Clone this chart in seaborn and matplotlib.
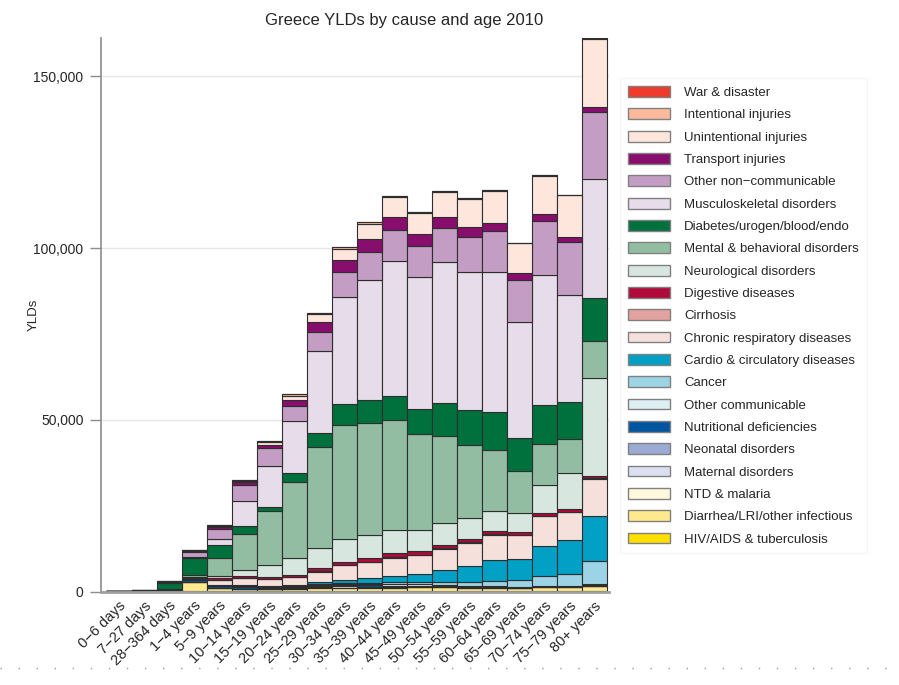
import numpy as np
import pandas as pd
import matplotlib
matplotlib.use("Agg")
import matplotlib.pyplot as plt
from matplotlib.patches import Patch
from matplotlib.lines import Line2D
import seaborn as sns

ages = ["0−6 days", "7−27 days", "28−364 days", "1−4 years", "5−9 years",
        "10−14 years", "15−19 years", "20−24 years", "25−29 years", "30−34 years",
        "35−39 years", "40−44 years", "45−49 years", "50−54 years", "55−59 years",
        "60−64 years", "65−69 years", "70−74 years", "75−79 years", "80+ years"]

# YLDs per cause (bottom of stack first)
hiv_tb        = [0, 0, 40, 100, 150, 150, 150, 200, 250, 250, 250, 250, 250, 250, 200, 150, 100, 150, 150, 100]
diarrhea_lri  = [30, 50, 250, 2600, 900, 700, 600, 600, 700, 800, 800, 900, 1000, 1000, 1000, 1050, 850, 1150, 1150, 1650]
ntd_malaria   = [0, 0, 0, 20, 20, 20, 20, 20, 20, 20, 20, 20, 20, 20, 20, 20, 20, 20, 20, 20]
maternal      = [0, 0, 0, 0, 0, 0, 50, 200, 400, 450, 350, 150, 50, 0, 0, 0, 0, 0, 0, 0]
neonatal      = [200, 300, 200, 200, 100, 50, 30, 20, 20, 20, 20, 20, 20, 20, 20, 20, 20, 20, 20, 20]
nutritional   = [0, 0, 150, 500, 400, 400, 350, 350, 350, 400, 400, 450, 450, 400, 200, 200, 150, 250, 250, 300]
other_comm    = [0, 0, 50, 200, 200, 200, 200, 200, 250, 300, 300, 320, 320, 260, 110, 110, 110, 160, 160, 150]
cancer        = [0, 0, 0, 100, 150, 150, 150, 200, 300, 400, 500, 800, 600, 960, 1360, 1650, 2150, 2910, 3400, 6580]
cardio        = [0, 0, 0, 100, 100, 150, 200, 250, 410, 660, 1250, 1750, 2440, 3400, 4660, 6120, 6120, 8740, 9900, 13310]
chronic_resp  = [0, 0, 50, 300, 1480, 2060, 2040, 2300, 3140, 4370, 4700, 5130, 5400, 6160, 6650, 7230, 6880, 8530, 8100, 10770]
cirrhosis     = [0, 0, 0, 0, 0, 0, 0, 30, 60, 100, 150, 200, 250, 250, 250, 250, 200, 200, 150, 100]
digestive     = [0, 0, 30, 100, 380, 580, 580, 580, 1000, 970, 1060, 1160, 1140, 970, 870, 760, 670, 670, 780, 780]
neurological  = [0, 0, 50, 150, 580, 1860, 3490, 4850, 5820, 6600, 6710, 6820, 6030, 6200, 6010, 5940, 5650, 8360, 10490, 28450]
mental        = [0, 0, 0, 490, 5240, 10480, 15520, 22030, 29300, 33200, 32610, 32030, 27950, 25540, 21370, 17760, 12110, 11850, 9900, 10660]
diabetes      = [0, 0, 1740, 4940, 3890, 2420, 1370, 2620, 4180, 6110, 6700, 7080, 7280, 9520, 10190, 11160, 9730, 11440, 10860, 12520]
musculo       = [0, 0, 40, 300, 1750, 7280, 11850, 15150, 23780, 31050, 35040, 39110, 38530, 40950, 40070, 40560, 33860, 37770, 31070, 34770]
other_ncd     = [50, 50, 350, 1550, 2910, 4560, 5130, 4560, 5720, 7280, 8140, 9140, 9020, 9900, 10400, 11940, 12240, 15820, 15320, 19390]
transport     = [0, 0, 0, 100, 480, 770, 990, 1740, 2700, 3610, 3700, 3870, 3410, 3400, 2910, 2480, 1830, 1960, 1680, 1460]
unintentional = [20, 20, 70, 350, 420, 400, 880, 1200, 2470, 3210, 4370, 5600, 6110, 7050, 7960, 9300, 8740, 11150, 12000, 19920]
intentional   = [0, 0, 10, 40, 270, 290, 370, 400, 280, 470, 470, 300, 280, 320, 280, 270, 200, 280, 200, 290]
war_disaster  = [0, 0, 0, 0, 0, 0, 0, 0, 0, 0, 0, 0, 0, 0, 0, 0, 0, 0, 0, 0]

# legend order (top of stack first)
causes = ["War & disaster", "Intentional injuries", "Unintentional injuries",
          "Transport injuries", "Other non−communicable", "Musculoskeletal disorders",
          "Diabetes/urogen/blood/endo", "Mental & behavioral disorders",
          "Neurological disorders", "Digestive diseases", "Cirrhosis",
          "Chronic respiratory diseases", "Cardio & circulatory diseases", "Cancer",
          "Other communicable", "Nutritional deficiencies", "Neonatal disorders",
          "Maternal disorders", "NTD & malaria", "Diarrhea/LRI/other infectious",
          "HIV/AIDS & tuberculosis"]
series = [war_disaster, intentional, unintentional, transport, other_ncd, musculo,
          diabetes, mental, neurological, digestive, cirrhosis, chronic_resp, cardio,
          cancer, other_comm, nutritional, neonatal, maternal, ntd_malaria,
          diarrhea_lri, hiv_tb]
colors = ["#EF3B2C", "#FCB99C", "#FEE6DC", "#880E6E", "#C49DC4", "#E7DCEA",
          "#00703D", "#92BDA3", "#D7E7E0", "#AF0A3A", "#E3A29F", "#F6E0DC",
          "#02A0C5", "#9CD4E5", "#DDEFF3", "#0256A0", "#9CABD3", "#DCDFF0",
          "#FFF8DC", "#FEE98D", "#FFDF00"]

rows = []
for cause, vals in zip(causes, series):
    for i, v in enumerate(vals):
        rows.append({"age": i, "cause": cause, "YLDs": v})
df = pd.DataFrame(rows)

sns.set_style("white")
plt.rcParams["font.family"] = ["Liberation Sans", "DejaVu Sans"]

fig = plt.figure(figsize=(8.99, 6.85), dpi=100)
ax = fig.add_axes([0.1129, 0.1362, 0.6774 - 0.1129, 0.9441 - 0.1362])

sns.histplot(data=df, x="age", weights="YLDs", hue="cause", hue_order=causes,
             palette=dict(zip(causes, colors)), multiple="stack", discrete=True,
             shrink=1, alpha=1, edgecolor="#2e2e2e", linewidth=0.8,
             legend=False, ax=ax)

ax.set_xlim(-0.7, 19.59)
ax.set_ylim(0, 161100)
ax.set_yticks([0, 50000, 100000, 150000])
ax.set_yticklabels(["0", "50,000", "100,000", "150,000"], fontsize=10)
ax.yaxis.grid(True, color="#e6e6e6", linewidth=1)
ax.set_axisbelow(True)
ax.set_xticks(range(len(ages)))
ax.set_xticklabels(ages, rotation=45, ha="right", va="top",
                   rotation_mode="anchor", fontsize=10.5)
ax.tick_params(axis="x", length=0, pad=5)
ax.tick_params(axis="y", length=8, width=1, color="#8c8c8c", pad=5, left=True)
ax.set_xlabel("")
ax.set_ylabel("YLDs", fontsize=9.5)
ax.yaxis.set_label_coords(-0.121, 0.5)
for s in ["top", "right"]:
    ax.spines[s].set_visible(False)
ax.spines["left"].set_color("#8c8c8c")
ax.spines["left"].set_linewidth(1.2)
ax.spines["bottom"].set_color("#a0a0a0")
ax.spines["bottom"].set_linewidth(2)

fig.text(0.449, 0.970, "Greece YLDs by cause and age 2010", ha="center",
         va="center", fontsize=12)

handles = [Patch(facecolor=c, edgecolor="#808080", linewidth=1) for c in colors]
leg = fig.legend(handles, causes, loc="upper left",
                 bbox_to_anchor=(620 / 899, 1 - 78 / 685), borderaxespad=0,
                 fontsize=9.5, frameon=True, fancybox=False, handlelength=3.2,
                 handleheight=0.9, handletextpad=1.05, labelspacing=0.705,
                 borderpad=0.6)
leg.get_frame().set_edgecolor("#f3f3f3")
leg.get_frame().set_linewidth(1)

fig.add_artist(Line2D([0.0, 1.0], [1 - 668 / 685, 1 - 668 / 685],
                      transform=fig.transFigure, color="#9a9a9a",
                      linewidth=1, linestyle=(0, (1, 12))))

fig.savefig("out.png", dpi=100)
